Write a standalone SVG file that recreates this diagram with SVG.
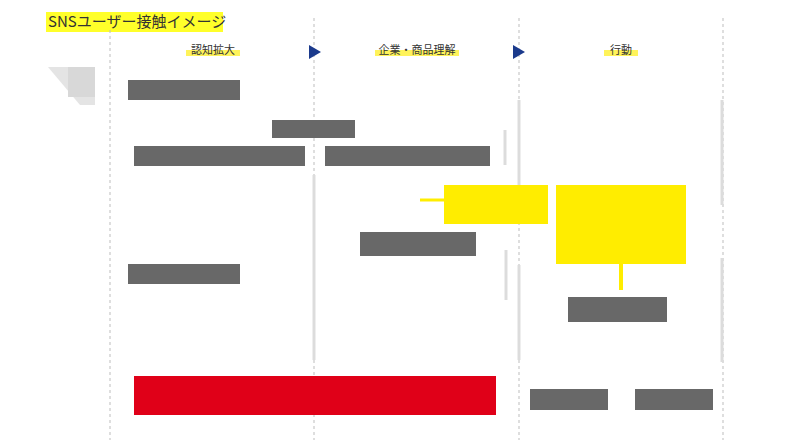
<svg xmlns="http://www.w3.org/2000/svg" width="800" height="445" viewBox="0 0 800 445">
<style>
.t{font-family:"Noto Sans CJK JP","Liberation Sans",sans-serif;fill:#333}
.dk{fill:#686868}
.yl{fill:#ffed00}
.dash{stroke:#bdbdbd;stroke-width:1;stroke-dasharray:3 3;fill:none}
.bar{stroke:#dcdcdc;stroke-width:3;fill:none}
.tri{fill:#1b3a8c}
.hl{fill:#fff35a}
</style>
<rect width="800" height="445" fill="#fff"/>
<g id="title">
<rect x="46" y="12" width="177" height="20" fill="#ffff2a"/>
<text class="t" x="48" y="27" font-size="15" fill="#222">SNSユーザー接触イメージ</text>
</g>
<g id="grid">
<line class="dash" x1="110" y1="30" x2="110" y2="440"/>
<line class="dash" x1="314" y1="18" x2="314" y2="440"/>
<line class="dash" x1="519" y1="18" x2="519" y2="440"/>
<line class="dash" x1="723" y1="18" x2="723" y2="440"/>
<line class="bar" x1="519" y1="100" x2="519" y2="185"/>
<line class="bar" x1="519" y1="265" x2="519" y2="360"/>
<line class="bar" x1="722" y1="100" x2="722" y2="205"/>
<line class="bar" x1="722" y1="258" x2="722" y2="362"/>
<line class="bar" x1="505" y1="130" x2="505" y2="165"/>
<line class="bar" x1="506" y1="250" x2="506" y2="300"/>
<line class="bar" x1="314" y1="175" x2="314" y2="360" stroke="#ececec"/>
</g>
<g id="headers">
<rect class="hl" x="186" y="50" width="54" height="6"/>
<text class="t" x="213" y="54" font-size="11" text-anchor="middle">認知拡大</text>
<rect class="hl" x="375" y="50" width="84" height="6"/>
<text class="t" x="417" y="54" font-size="11" text-anchor="middle">企業・商品理解</text>
<rect class="hl" x="604" y="50" width="34" height="6"/>
<text class="t" x="621" y="54" font-size="11" text-anchor="middle">行動</text>
</g>
<g id="arrows">
<polygon class="tri" points="309,45 321,52 309,59"/>
<polygon class="tri" points="513,45 525,52 513,59"/>
</g>
<g id="icon">
<polygon points="48,67 95,67 95,105 80,105" fill="#e4e4e4"/>
<rect x="68" y="67" width="27" height="30" fill="#d8d8d8"/>
</g>
<g id="connectors">
<line x1="420" y1="200" x2="446" y2="200" stroke="#ffed00" stroke-width="3"/>
<line x1="621" y1="262" x2="621" y2="290" stroke="#ffed00" stroke-width="4"/>
</g>
<g id="n1"><rect class="dk" x="128" y="80" width="112" height="20"/></g>
<g id="n2"><rect class="dk" x="272" y="120" width="83" height="18"/></g>
<g id="n3"><rect class="dk" x="134" y="146" width="171" height="20"/></g>
<g id="n4"><rect class="dk" x="325" y="146" width="165" height="20"/></g>
<g id="n5"><rect class="dk" x="360" y="232" width="116" height="24"/></g>
<g id="n6"><rect class="dk" x="128" y="264" width="112" height="20"/></g>
<g id="n7"><rect class="dk" x="568" y="297" width="99" height="25"/></g>
<g id="n8"><rect class="dk" x="530" y="389" width="78" height="21"/></g>
<g id="n9"><rect class="dk" x="635" y="389" width="78" height="21"/></g>
<g id="y1"><rect class="yl" x="444" y="185" width="104" height="39"/></g>
<g id="y2"><rect class="yl" x="556" y="185" width="130" height="79"/></g>
<g id="red"><rect x="134" y="376" width="362" height="39" fill="#e00018"/></g>
</svg>
